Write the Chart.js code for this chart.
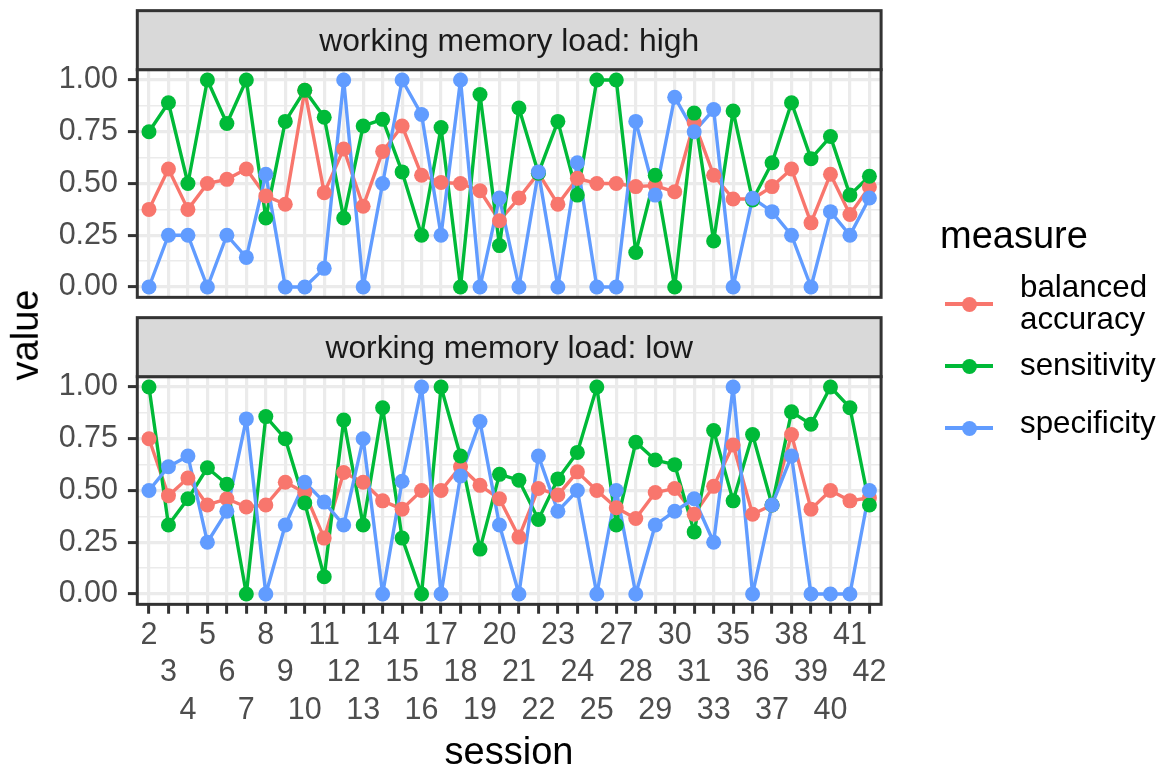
<!DOCTYPE html>
<html>
<head>
<meta charset="utf-8">
<script src="https://cdn.jsdelivr.net/npm/chart.js@4/dist/chart.umd.min.js"></script>
<style>
  html, body { margin: 0; padding: 0; background: #ffffff; }
  #wrap { position: relative; width: 1164px; height: 769px; overflow: hidden;
          font-family: 'Liberation Sans', Arial, sans-serif; }
  canvas { position: absolute; left: 0; }
  #high { top: 0; }
  #low { top: 300px; }
  .title { position: absolute; font-size: 38px; line-height: 38px; color: #000; white-space: nowrap; }
  #ytitle { left: 0; top: 0; width: 200px; text-align: center;
            transform-origin: 0 0; }
  #xtitle { left: 309px; top: 731.8px; width: 400px; text-align: center; }
  #legendTitle { left: 940px; top: 216.1px; }
  .key { position: absolute; width: 48px; height: 16px; left: 945px; }
  .key .ln { position: absolute; left: 0; right: 0; top: 6.3px; height: 3.4px; }
  .key .dot { position: absolute; left: 16.5px; top: 0.5px; width: 15px; height: 15px; border-radius: 50%; }
  .lab { position: absolute; left: 1020px; font-size: 31.3px; line-height: 32px; color: #000; white-space: nowrap; }
</style>
</head>
<body>
<div id="wrap">
  <canvas id="high" width="1164" height="340"></canvas>
  <canvas id="low" width="1164" height="469"></canvas>
  <div class="title" id="ytitle">value</div>
  <div class="title" id="xtitle">session</div>
  <div class="title" id="legendTitle">measure</div>
  <div id="legend"></div>
</div>
<script>
// Sessions on the x axis (26, 32 and 34 are absent)
const sessions = ['2','3','4','5','6','7','8','9','10','11','12','13','14','15','16','17','18','19','20','21',
                  '22','23','24','25','27','28','29','30','31','33','35','36','37','38','39','40','41','42'];

// Working memory load: high
const highBalancedAccuracy = [0.375,0.57,0.375,0.50,0.52,0.57,0.44,0.40,0.95,0.455,0.667,0.39,0.655,0.778,0.54,0.505,0.50,0.465,0.32,0.43,
                              0.55,0.40,0.525,0.50,0.50,0.485,0.49,0.46,0.795,0.54,0.425,0.425,0.485,0.57,0.31,0.545,0.35,0.483];
const highSensitivity      = [0.75,0.89,0.50,1.00,0.79,1.00,0.333,0.80,0.95,0.82,0.333,0.778,0.81,0.556,0.25,0.77,0.00,0.93,0.20,0.865,
                              0.55,0.80,0.444,1.00,1.00,0.167,0.54,0.00,0.84,0.222,0.85,0.42,0.60,0.89,0.62,0.727,0.444,0.535];
const highSpecificity      = [0.00,0.25,0.25,0.00,0.25,0.143,0.545,0.00,0.00,0.09,1.00,0.00,0.50,1.00,0.833,0.25,1.00,0.00,0.43,0.00,
                              0.556,0.00,0.60,0.00,0.00,0.80,0.444,0.917,0.75,0.857,0.00,0.429,0.364,0.25,0.00,0.364,0.25,0.43];

// Working memory load: low
const lowBalancedAccuracy  = [0.75,0.475,0.56,0.43,0.46,0.42,0.43,0.54,0.49,0.27,0.587,0.54,0.45,0.41,0.50,0.50,0.615,0.525,0.46,0.275,
                              0.51,0.478,0.59,0.50,0.417,0.365,0.49,0.51,0.385,0.52,0.72,0.385,0.43,0.77,0.41,0.50,0.45,0.465];
const lowSensitivity       = [1.00,0.333,0.46,0.61,0.53,0.00,0.857,0.75,0.44,0.083,0.84,0.333,0.90,0.27,0.00,1.00,0.667,0.217,0.578,0.55,
                              0.36,0.556,0.684,1.00,0.333,0.733,0.647,0.625,0.30,0.79,0.45,0.77,0.43,0.88,0.82,1.00,0.90,0.43];
const lowSpecificity       = [0.50,0.615,0.667,0.25,0.40,0.846,0.00,0.333,0.54,0.444,0.333,0.75,0.00,0.545,1.00,0.00,0.57,0.833,0.333,0.00,
                              0.667,0.40,0.50,0.00,0.50,0.00,0.333,0.40,0.46,0.25,1.00,0.00,0.43,0.667,0.00,0.00,0.00,0.50];

const measureNames  = ['balanced accuracy', 'sensitivity', 'specificity'];
const measureColors = ['#F8766D', '#00BA38', '#619CFF'];
const facetLabels   = ['working memory load: high', 'working memory load: low'];

// Value axis: labelled breaks plus the unlabelled minor breaks between them
const yMajorTicks = [0, 0.25, 0.5, 0.75, 1];
const yMinorTicks = [0.125, 0.375, 0.625, 0.875];
const yTickLabels = ['0.00', '0.25', '0.50', '0.75', '1.00'];

const FONT = "'Liberation Sans', Arial, sans-serif";
const PANEL_LEFT = 137.3, PANEL_RIGHT = 881.1;

// Panel outline and the grey facet strip above it
const facetStrip = {
  id: 'facetStrip',
  afterDraw(chart, args, opts) {
    const { ctx, chartArea: a } = chart;
    ctx.save();
    ctx.lineWidth = 3;
    ctx.strokeStyle = '#333333';
    ctx.strokeRect(a.left, a.top, a.right - a.left, a.bottom - a.top);
    const top = a.top - opts.height;
    ctx.fillStyle = '#D9D9D9';
    ctx.fillRect(a.left, top, a.right - a.left, opts.height);
    ctx.strokeRect(a.left, top, a.right - a.left, opts.height);
    ctx.fillStyle = '#1A1A1A';
    ctx.font = '31.8px ' + FONT;
    ctx.textAlign = 'center';
    ctx.textBaseline = 'alphabetic';
    ctx.fillText(opts.text, (a.left + a.right) / 2, a.top - opts.baseline);
    ctx.restore();
  }
};

const isMajor = v => yMajorTicks.some(t => Math.abs(t - v) < 1e-9);

function makePanel(canvasId, series, label, padTop, xAxisHeight, showX) {
  const toPoints = vals => vals.map((v, i) => ({ x: i, y: v }));
  // lines first, then points on top (specificity drawn last)
  const lines = series.map((vals, k) => ({
    label: measureNames[k], data: toPoints(vals),
    borderColor: measureColors[k], borderWidth: 3.4, borderJoinStyle: 'round',
    pointRadius: 0, showLine: true, fill: false, tension: 0, order: 5 - k
  }));
  const points = series.map((vals, k) => ({
    label: measureNames[k], data: toPoints(vals),
    showLine: false, pointRadius: 7.5, pointBorderWidth: 0,
    pointBackgroundColor: measureColors[k], backgroundColor: measureColors[k], order: 2 - k
  }));
  return new Chart(document.getElementById(canvasId), {
    type: 'line',
    data: { datasets: lines.concat(points) },
    plugins: [facetStrip],
    options: {
      responsive: false,
      animation: false,
      events: [],
      layout: { padding: { top: padTop, right: 1164 - PANEL_RIGHT, bottom: 0, left: 0 } },
      plugins: {
        legend: { display: false },
        tooltip: { enabled: false },
        facetStrip: { text: label, height: 59, baseline: 18.65 }
      },
      scales: {
        x: {
          type: 'linear', min: -0.6, max: sessions.length - 0.4,
          afterBuildTicks: s => { s.ticks = sessions.map((_, i) => ({ value: i })); },
          afterFit: s => { s.height = xAxisHeight; },
          border: { display: false },
          grid: { color: '#EBEBEB', lineWidth: 3.2, drawTicks: showX, tickLength: 9.4,
                  tickColor: '#333333', tickWidth: 3 },
          ticks: {
            display: showX, autoSkip: false, maxRotation: 0, minRotation: 0, padding: 3,
            color: '#4D4D4D', font: { family: FONT, size: 30.5, lineHeight: '37.5px' },
            callback: (v, i) => new Array(i % 3).fill('').concat([sessions[i]])
          }
        },
        y: {
          type: 'linear', min: -0.05, max: 1.05,
          afterBuildTicks: s => {
            s.ticks = yMajorTicks.concat(yMinorTicks).sort((a, b) => a - b).map(v => ({ value: v }));
          },
          afterFit: s => { s.width = PANEL_LEFT; },
          border: { display: false },
          grid: {
            color: '#EBEBEB',
            lineWidth: c => (c.tick && isMajor(c.tick.value)) ? 3.2 : 1.6,
            tickLength: 9.4,
            tickColor: c => (c.tick && isMajor(c.tick.value)) ? '#333333' : 'rgba(0,0,0,0)',
            tickWidth: 3
          },
          ticks: {
            autoSkip: false, padding: 9.9, color: '#4D4D4D',
            font: { family: FONT, size: 30.5 },
            callback: v => {
              const j = yMajorTicks.findIndex(t => Math.abs(t - v) < 1e-9);
              return j >= 0 ? yTickLabels[j] : '';
            }
          }
        }
      }
    }
  });
}

// Top panel: the canvas reaches below the panel so the y labels have room
makePanel('high', [highBalancedAccuracy, highSensitivity, highSpecificity], facetLabels[0], 69.65, 340 - 297.35, false);
makePanel('low', [lowBalancedAccuracy, lowSensitivity, lowSpecificity], facetLabels[1], 76.65, 469 - 304.35, true);

// Rotated y title centred on the two panels
const yt = document.getElementById('ytitle');
yt.style.transform = 'translate(' + (24.8 - 19) + 'px,' + (335 + 100) + 'px) rotate(-90deg)';
yt.style.transformOrigin = '0 0';

// Legend
const legendTops = [271.0, 348.5, 407.0];
const keyCentres = [304, 366, 428];
const legend = document.getElementById('legend');
measureNames.forEach((name, k) => {
  const key = document.createElement('div');
  key.className = 'key';
  key.style.top = (keyCentres[k] - 8) + 'px';
  key.innerHTML = '<div class="ln" style="background:' + measureColors[k] + '"></div>' +
                  '<div class="dot" style="background:' + measureColors[k] + '"></div>';
  legend.appendChild(key);
  const lab = document.createElement('div');
  lab.className = 'lab';
  lab.style.top = legendTops[k] + 'px';
  lab.innerHTML = name.length > 12 ? name.replace(' ', '<br>') : name;
  legend.appendChild(lab);
});
</script>
</body>
</html>
